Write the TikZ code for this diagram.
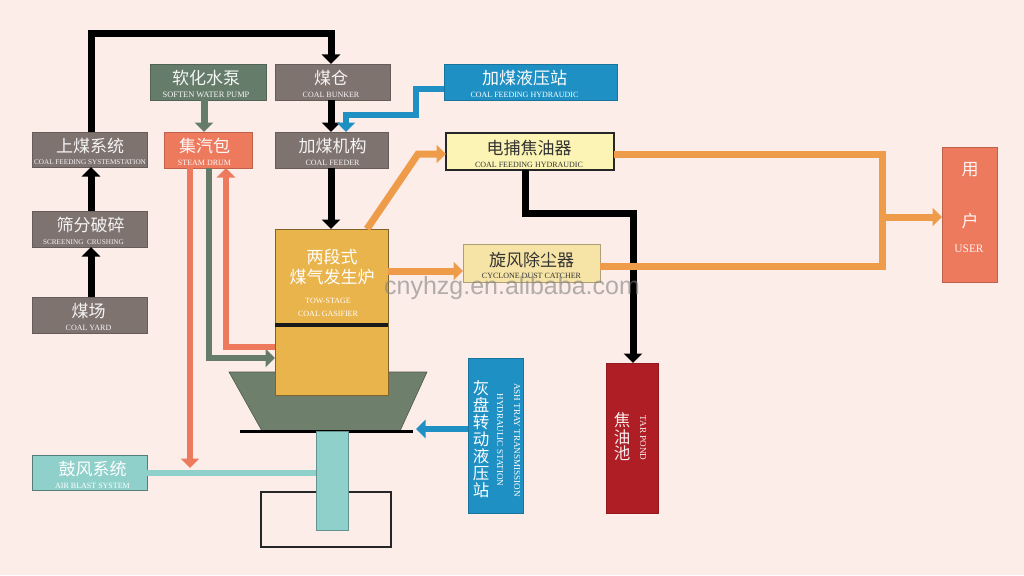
\documentclass[tikz,border=0pt]{standalone}
\usepackage{fontspec}
\setmainfont{Liberation Serif}
\newfontfamily\cjk{Noto Sans CJK SC}[Scale=1]
\newfontfamily\wm{Liberation Sans}
\usetikzlibrary{arrows.meta,calc}
\definecolor{bgc}{HTML}{FCEDE8}
\definecolor{greyc}{HTML}{7F7370}
\definecolor{greenc}{HTML}{667C6A}
\definecolor{redc}{HTML}{EE7A5E}
\definecolor{bluec}{HTML}{1E90C4}
\definecolor{tealc}{HTML}{8FD0CB}
\definecolor{orangec}{HTML}{EE9C4A}
\definecolor{yellowc}{HTML}{FBF4B4}
\definecolor{cycc}{HTML}{F6E4A6}
\definecolor{gasc}{HTML}{E9B44C}
\definecolor{tarc}{HTML}{AE1E24}
\definecolor{trapc}{HTML}{6E7F6B}
\newcommand{\cn}[1]{{\cjk\fontsize{17}{18}\selectfont #1}}
\newcommand{\en}[1]{{\fontsize{8}{9}\selectfont #1}}
% \flowbox{name}{x0}{y0}{x1}{y1}{style}{cn}{en}{dx}
\newcommand{\flowbox}[9]{%
  \pgfmathsetmacro{\bw}{#4-#2}\pgfmathsetmacro{\bh}{#5-#3}%
  \pgfmathsetmacro{\bx}{(#2+#4)/2+#9}\pgfmathsetmacro{\by}{(#3+#5)/2}%
  \pgfmathsetmacro{\cx}{(#2+#4)/2}%
  \node[#6,minimum width=\bw pt,minimum height=\bh pt] (#1) at (\cx,\by) {};
  \node[#6,draw=none,fill=none] (#1cn) at (\bx,\by-3.5) {\cn{#7}};
  \node[#6,draw=none,fill=none] (#1en) at (\bx,\by+13) {\en{#8}};
}
\newcommand{\plainbox}[6]{%
  \pgfmathsetmacro{\bw}{#4-#2}\pgfmathsetmacro{\bh}{#5-#3}%
  \pgfmathsetmacro{\bx}{(#2+#4)/2}\pgfmathsetmacro{\by}{(#3+#5)/2}%
  \node[#6,minimum width=\bw pt,minimum height=\bh pt] (#1) at (\bx,\by) {};
}
\tikzset{
  basebox/.style={rectangle,inner sep=0pt,outer sep=0pt,line width=0.8pt},
  greybox/.style={basebox,fill=greyc,draw=greyc!80!black,text=white!92!greyc},
  greenbox/.style={basebox,fill=greenc,draw=greenc!80!black,text=white!92!greenc},
  redbox/.style={basebox,fill=redc,draw=redc!80!black,text=white!95!redc},
  bluebox/.style={basebox,fill=bluec,draw=bluec!80!black,text=white},
  tealbox/.style={basebox,fill=tealc,draw=tealc!60!black,text=white},
  yellowbox/.style={basebox,fill=yellowc,draw=black!85,line width=1.2pt,text=black!80},
  cycbox/.style={basebox,fill=cycc,draw=cycc!70!black,text=black!80},
  gasbox/.style={basebox,fill=gasc,draw=gasc!55!black,text=white},
  tarbox/.style={basebox,fill=tarc,draw=tarc!85!black,text=white!92!tarc},
  flowline/.style={line width=#1,line join=miter,-{Triangle[width=18pt,length=9.5pt]}},
  flowline/.default=7pt,
  plainline/.style={line width=#1,line join=miter},
  plainline/.default=7pt,
  lab/.style={inner sep=0pt,outer sep=0pt,text=white},
}
\begin{document}
\begin{tikzpicture}[x=1pt,y=-1pt]
\fill[bgc] (0,0) rectangle (1024,575);
\useasboundingbox (0,0) rectangle (1024,575);
% bed and boxes
\flowbox{shang}{32}{132}{147}{167}{greybox}{上煤系统}{\fontsize{7.2}{9}\selectfont COAL FEEDING SYSTEMSTATION}{0.5}
\flowbox{pump}{150}{64}{266}{100}{greenbox}{软化水泵}{\fontsize{8.4}{9}\selectfont SOFTEN WATER PUMP}{-2}
\flowbox{cang}{275}{64}{390}{100}{greybox}{煤仓}{COAL BUNKER}{-1.5}
\flowbox{drum}{164}{132}{252}{168}{redbox}{集汽包}{STEAM DRUM}{-3.5}
\flowbox{feeder}{275}{132}{388}{168}{greybox}{加煤机构}{COAL FEEDER}{1}
\flowbox{hyd}{444}{64}{617}{100}{bluebox}{加煤液压站}{COAL FEEDING HYDRAUDIC}{-6}
\flowbox{tarcatch}{446}{133}{614}{170}{yellowbox}{电捕焦油器}{COAL FEEDING HYDRAUDIC}{-1}
\flowbox{cyc}{463}{244}{600}{282}{cycbox}{旋风除尘器}{CYCLONE DUST CATCHER}{0}
\flowbox{screen}{32}{211}{147}{247}{greybox}{筛分破碎}{\fontsize{7.2}{9}\selectfont\hspace*{-14pt}SCREENING\ \ CRUSHING}{1}
\flowbox{yard}{32}{297}{147}{333}{greybox}{煤场}{COAL YARD}{-1}
\flowbox{blast}{32}{455}{147}{490}{tealbox}{鼓风系统}{AIR BLAST SYSTEM}{3}
% lower part of the gasifier
\plainbox{base}{261}{492}{391}{547}{basebox,draw=black!85,line width=1.1pt,fill=none}
\fill[trapc,draw=trapc!70!black,line width=0.6pt] (229,372) -- (427,372) -- (400,431) -- (262,431) -- cycle;
\coordinate (plateL) at (240,431);
\coordinate (plateR) at (413,431);
\draw[black,line width=3pt] (plateL) -- (plateR);
\plainbox{column}{316}{431}{348}{530}{basebox,fill=tealc,draw=tealc!70!black}
\plainbox{gas}{275}{229}{388}{395}{gasbox}
\coordinate (divL) at (275,325);
\coordinate (divR) at (388,325);
\draw[black!90,line width=3.6pt] (divL) -- (divR);
\node[lab] (gast1) at (332,257) {\cn{两段式}};
\node[lab] (gast2) at (332,277) {\cn{煤气发生炉}};
\node[lab] (gast3) at (328,301) {\en{TOW-STAGE}};
\node[lab] (gast4) at (328,314) {\en{COAL GASIFIER}};
% tall boxes
\plainbox{ash}{468}{358}{523}{513}{bluebox}
\node[lab,align=center,font=\cjk\fontsize{16.5}{17}\selectfont] (asht) at (481,439) {灰\\盘\\转\\动\\液\\压\\站};
\node[lab,rotate=-90] (ashe1) at (517,440) {\fontsize{9.1}{10}\selectfont ASH TRAY TRANSMISSION};
\node[lab,rotate=-90] (ashe2) at (500,440) {\fontsize{9.1}{10}\selectfont HYDRAULIC STATION};
\plainbox{pond}{606}{363}{658}{513}{tarbox}
\node[lab,align=center,text=white!92!tarc,font=\cjk\fontsize{16.5}{16.5}\selectfont] (pondt) at (622,437) {焦\\油\\池};
\node[lab,rotate=-90,text=white!92!tarc] (ponde) at (643,438) {\fontsize{9.2}{10}\selectfont TAR POND};
\plainbox{user}{942}{147}{997}{282}{redbox}
\node[lab,text=white!92!redc] (usert1) at (970,170) {\cn{用}};
\node[lab,text=white!92!redc] (usert2) at (970,221) {\cn{户}};
\node[lab,text=white!92!redc] (usert3) at (969,249) {\fontsize{11.4}{12}\selectfont USER};
% black connectors
\coordinate (b1) at (91,33.5);
\coordinate (b4) at (331,100);
\draw[flowline] (b1 |- shang.north) -- (b1) -- (b4 |- b1) -- (b4 |- cang.north);
\coordinate (b2) at (91,211);
\draw[flowline] (b2) -- (b2 |- shang.south);
\coordinate (b3) at (91,297);
\draw[flowline] (b3) -- (b3 |- screen.south);
\draw[flowline] (b4) -- (b4 |- feeder.north);
\coordinate (b5) at (331,168);
\draw[flowline] (b5) -- (b5 |- gas.north);
\coordinate (b6) at (525,213);
\coordinate (b7) at (633,213);
\draw[flowline] (b6 |- tarcatch.south) -- (b6) -- (b7) -- (b7 |- pond.north);
% blue connectors
\coordinate (h1) at (416,89);
\coordinate (h2) at (416,115);
\coordinate (h3) at (346,115);
\draw[flowline=6pt,draw=bluec] (hyd.west |- h1) -- (h1) -- (h2) -- (h3) -- (h3 |- feeder.north);
\coordinate (a1) at (468,429);
\coordinate (a2) at (416,429);
\draw[flowline=6pt,draw=bluec] (a1) -- (a2);
% water and steam
\coordinate (g1) at (204,100);
\draw[flowline,draw=greenc] (g1) -- (g1 |- drum.north);
\coordinate (s1) at (209,168);
\coordinate (s2) at (209,358);
\draw[flowline=6pt,draw=greenc] (s1) -- (s2) -- (s2 -| gas.west);
\coordinate (r1) at (226,347);
\draw[flowline=6pt,draw=redc] (r1 -| gas.west) -- (r1) -- (r1 |- drum.south);
\coordinate (bl) at (147,473);
\draw[plainline=6pt,draw=tealc] (bl) -- (bl -| column.west);
\coordinate (r2) at (190,168);
\coordinate (r3) at (190,468);
\draw[flowline=6pt,draw=redc] (r2) -- (r3);
% gas flow
\coordinate (o1) at (367,229);
\coordinate (o2) at (418,154);
\draw[flowline,draw=orangec] (o1) -- (o2) -- (o2 -| tarcatch.west);
\coordinate (o3) at (388,271);
\draw[flowline,draw=orangec] (o3) -- (o3 -| cyc.west);
\coordinate (o4) at (882,154);
\coordinate (o5) at (882,266);
\draw[plainline,draw=orangec] (o4 -| tarcatch.east) -- (o4) -- (o5) -- (o5 -| cyc.east);
\coordinate (o6) at (882,217);
\draw[flowline,draw=orangec] (o6) -- (o6 -| user.west);
% watermark
\node[inner sep=0pt,text=black!50,opacity=.6] (mark) at (512,288) {\wm\fontsize{25}{27}\selectfont cnyhzg.en.alibaba.com};
\end{tikzpicture}
\end{document}
